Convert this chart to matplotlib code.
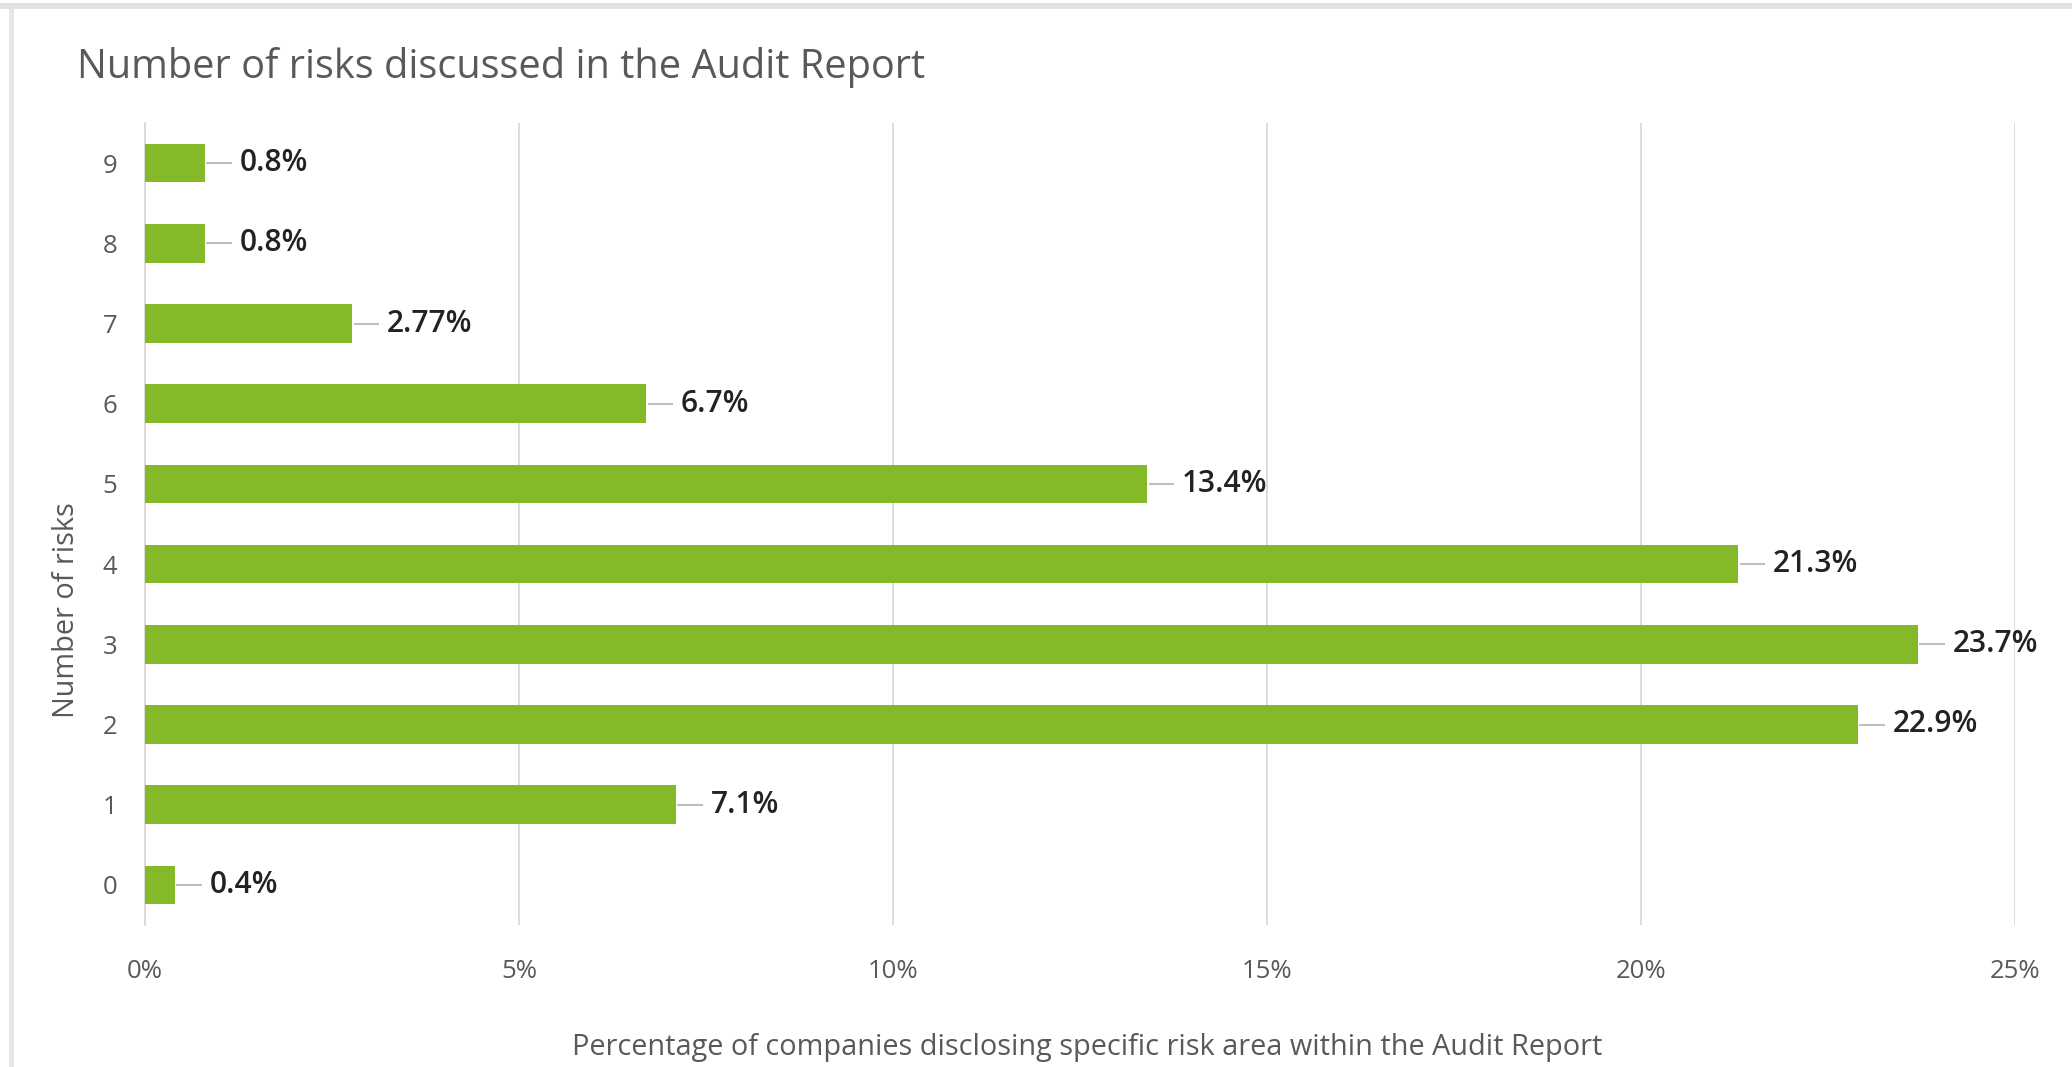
import matplotlib
matplotlib.use("Agg")
import matplotlib.pyplot as plt
import matplotlib.transforms as mtransforms
from matplotlib.patches import Rectangle

# ---- data ----
categories = [0, 1, 2, 3, 4, 5, 6, 7, 8, 9]
values = [0.4, 7.1, 22.9, 23.7, 21.3, 13.4, 6.7, 2.77, 0.8, 0.8]
value_labels = ["0.4%", "7.1%", "22.9%", "23.7%", "21.3%", "13.4%", "6.7%", "2.77%", "0.8%", "0.8%"]
xticks = [0, 5, 10, 15, 20, 25]
xtick_labels = ["0%", "5%", "10%", "15%", "20%", "25%"]

title = "Number of risks discussed in the Audit Report"
xlabel = "Percentage of companies disclosing specific risk area within the Audit Report"
ylabel = "Number of risks"

W, H = 2072, 1067
DPI = 100
fig = plt.figure(figsize=(W / DPI, H / DPI), dpi=DPI)
fig.patch.set_facecolor("white")

FONT = ["Open Sans", "DejaVu Sans"]
GRAY = "#595959"
DARK = "#222222"
GREEN = "#84BA27"

# frame of the screenshot
fig.patches.append(Rectangle((0, 1 - 9 / H), 1, 6 / H, transform=fig.transFigure,
                             facecolor="#e2e2e2", edgecolor="none"))
fig.patches.append(Rectangle((9 / W, 0), 5 / W, 1 - 9 / H, transform=fig.transFigure,
                             facecolor="#e6e6e6", edgecolor="none"))

left, right, top, bottom = 145 / W, 2015 / W, 1 - 123 / H, 1 - 925 / H
ax = fig.add_axes([left, bottom, right - left, top - bottom])

ax.barh(categories, values, height=0.48, color=GREEN, zorder=3)
ax.set_xlim(0, 25)
ax.set_ylim(-0.5, 9.5)

ax.set_xticks(xticks)
ax.set_xticklabels(xtick_labels)
ax.set_yticks(categories)
ax.set_yticklabels([str(c) for c in categories])
ax.tick_params(axis="both", length=0, colors=GRAY, labelsize=18.5)
ax.tick_params(axis="x", pad=24.5)
ax.tick_params(axis="y", pad=20)
for lab in ax.get_xticklabels() + ax.get_yticklabels():
    lab.set_family(FONT)

for s in ["top", "right", "bottom"]:
    ax.spines[s].set_visible(False)
ax.spines["left"].set_color("#d9d9d9")
ax.spines["left"].set_linewidth(1.3)
ax.xaxis.grid(True, color="#d9d9d9", linewidth=1.3, zorder=0)
ax.set_axisbelow(True)

for c, v, lab in zip(categories, values, value_labels):
    ax.annotate(lab, xy=(v, c), xycoords="data", xytext=(25, 0),
                textcoords="offset points", va="center", ha="left",
                fontsize=21.5, color=DARK, family=FONT, fontweight=600,
                annotation_clip=False)

# leader lines from bar end to label
fig.canvas.draw()
for c, v in zip(categories, values):
    t1 = mtransforms.offset_copy(ax.transData, fig=fig, x=1.0, y=0, units="points")
    t2 = mtransforms.offset_copy(ax.transData, fig=fig, x=19.5, y=0, units="points")
    p1 = t1.transform((v, c))
    p2 = t2.transform((v, c))
    ax.plot([p1[0], p2[0]], [p1[1], p2[1]], transform=None, color="#bfbfbf",
            linewidth=1.5, solid_capstyle="butt", clip_on=False, zorder=4)

fig.text(77 / W, 1 - 68 / H, title, ha="left", va="center", fontsize=28.6,
         color=GRAY, family=FONT)
fig.text(1087 / W, 1 - 1047 / H, xlabel, ha="center", va="center",
         fontsize=20.8, color=GRAY, family=FONT)
fig.text(66 / W, 1 - 610 / H, ylabel, ha="center", va="center", rotation=90,
         fontsize=20.8, color=GRAY, family=FONT)

fig.savefig("out.png", dpi=DPI, facecolor="white")
